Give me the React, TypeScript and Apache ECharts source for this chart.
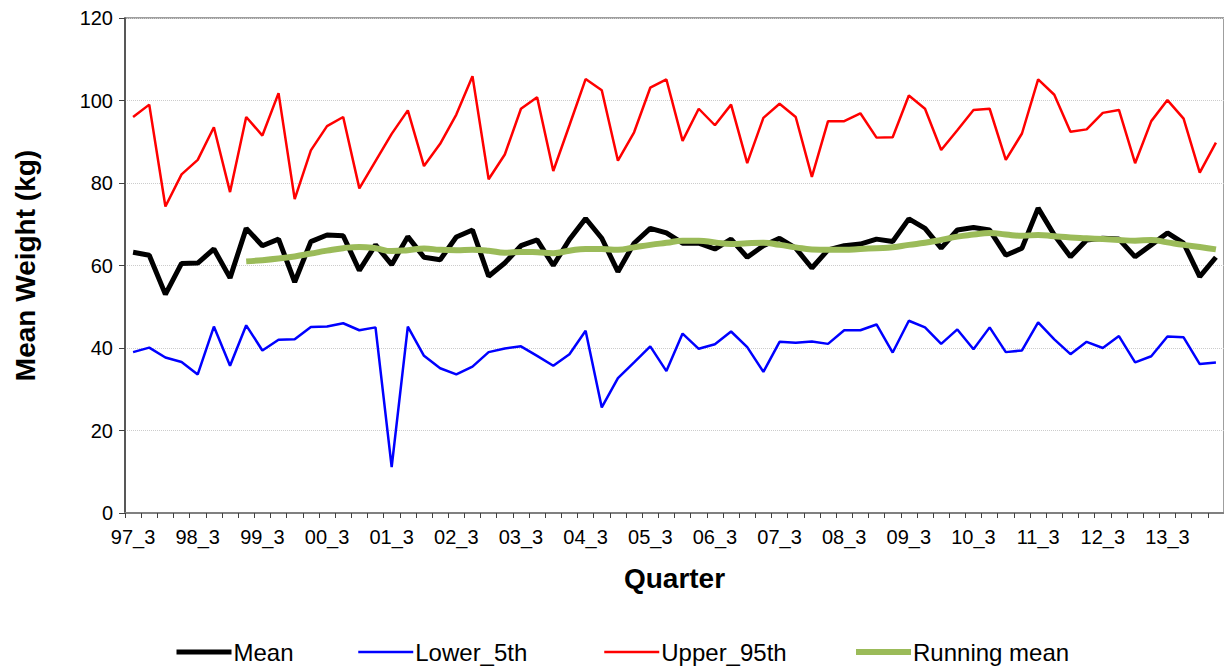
import React, { useEffect, useRef } from "react";
import * as echarts from "echarts";

const years = ["97", "98", "99", "00", "01", "02", "03", "04", "05", "06", "07", "08", "09", "10", "11", "12", "13", "14"];

// quarters 97_3 .. 14_2
const quarters: string[] = [];
for (let y = 0; y < years.length; y++) {
  for (let q = 1; q <= 4; q++) {
    if (y === 0 && q < 3) continue;
    if (y === years.length - 1 && q > 2) continue;
    quarters.push(years[y] + "_" + q);
  }
}

const meanValues = [
  63.2, 62.5, 53.0, 60.5, 60.6, 64.0, 57.0, 69.0, 64.8, 66.4,
  56.0, 65.8, 67.4, 67.2, 58.8, 65.0, 60.2, 67.0, 62.0, 61.4,
  66.9, 68.6, 57.4, 60.6, 64.8, 66.2, 60.0, 66.3, 71.4, 66.6,
  58.5, 65.4, 69.0, 67.9, 65.4, 65.4, 64.0, 66.4, 62.0, 64.8,
  66.6, 64.2, 59.4, 63.8, 64.8, 65.2, 66.4, 65.8, 71.3, 69.0,
  64.2, 68.6, 69.2, 68.6, 62.5, 64.2, 73.9, 67.4, 62.1, 66.2,
  66.6, 66.4, 62.1, 65.0, 67.9, 65.4, 57.3, 62.0,
];

const lower5th = [
  39.0, 40.1, 37.7, 36.6, 33.6, 45.2, 35.7, 45.5, 39.4, 42.0,
  42.1, 45.1, 45.2, 46.0, 44.3, 45.0, 11.1, 45.2, 38.1, 35.1,
  33.6, 35.5, 39.0, 39.9, 40.4, 38.1, 35.7, 38.5, 44.2, 25.6,
  32.7, 36.5, 40.4, 34.4, 43.5, 39.8, 40.9, 44.0, 40.2, 34.2,
  41.5, 41.3, 41.6, 41.0, 44.3, 44.3, 45.7, 38.9, 46.6, 45.0,
  41.0, 44.5, 39.7, 45.0, 39.0, 39.4, 46.2, 42.1, 38.5, 41.5,
  40.0, 42.9, 36.5, 38.0, 42.8, 42.6, 36.1, 36.5,
];

const upper95th = [
  96.0, 99.0, 74.3, 82.1, 85.6, 93.5, 77.8, 96.0, 91.5, 101.8,
  76.1, 87.9, 93.8, 96.0, 78.7, 85.3, 91.9, 97.6, 84.1, 89.5,
  96.6, 105.9, 80.9, 86.9, 98.0, 100.8, 82.9, 94.0, 105.2, 102.5,
  85.4, 92.3, 103.1, 105.1, 90.2, 98.0, 94.0, 99.0, 84.8, 95.8,
  99.2, 96.0, 81.5, 95.0, 95.0, 96.9, 91.0, 91.1, 101.2, 98.0,
  88.0, 92.8, 97.7, 98.0, 85.6, 92.0, 105.1, 101.4, 92.4, 93.0,
  97.0, 97.7, 84.8, 95.0, 100.1, 95.6, 82.5, 89.8,
];

const runningMean: (number | null)[] = [
  null, null, null, null, null, null, null, 61.0, 61.3, 61.7,
  62.2, 62.9, 63.6, 64.2, 64.5, 64.2, 63.5, 63.7, 64.1, 63.8,
  63.7, 63.8, 63.6, 63.1, 63.3, 63.2, 63.0, 63.6, 64.0, 64.0,
  63.8, 64.4, 65.0, 65.5, 66.0, 66.0, 65.6, 65.2, 65.4, 65.5,
  65.0, 64.4, 63.9, 63.8, 63.8, 64.0, 64.2, 64.4, 65.0, 65.5,
  66.2, 67.0, 67.5, 67.9, 67.5, 67.2, 67.4, 67.1, 66.8, 66.6,
  66.4, 66.2, 66.0, 66.2, 65.6, 65.0, 64.5, 63.9,
];

const seriesNames = ["Mean", "Lower_5th", "Upper_95th", "Running mean"];
const seriesColors = ["#000000", "#0000ff", "#ff0000", "#9bbb59"];
const seriesWidths = [5, 2.5, 2.5, 6];
const legendLefts = [169, 352, 598, 848];

export default function App() {
  const ref = useRef<HTMLDivElement>(null);
  useEffect(() => {
    if (!ref.current) return;
    const chart = echarts.init(ref.current, undefined, { renderer: "svg" });
    const font = "'Liberation Sans', Arial, sans-serif";
    const seriesData = [meanValues, lower5th, upper95th, runningMean];
    chart.setOption({
      animation: false,
      textStyle: { fontFamily: font },
      grid: {
        left: 125,
        top: 18,
        bottom: 155,
        right: -3,
        show: true,
        borderColor: "#808080",
        borderWidth: 1.5,
        backgroundColor: "transparent",
      },
      legend: seriesNames.map((name, i) => ({
        left: legendLefts[i],
        top: 635,
        itemWidth: 55,
        itemHeight: 14,
        itemGap: 0,
        itemStyle: { opacity: 0 },
        lineStyle: { width: seriesWidths[i], color: seriesColors[i] },
        textStyle: { fontSize: 24, color: "#000", fontFamily: font, padding: [0, 0, 0, -3] },
        data: [name],
      })),
      xAxis: {
        type: "category",
        data: quarters,
        boundaryGap: true,
        name: "Quarter",
        nameLocation: "middle",
        nameGap: 51,
        nameTextStyle: { fontSize: 28, fontWeight: "bold", color: "#000", fontFamily: font },
        axisLine: { lineStyle: { color: "#808080", width: 2 } },
        axisTick: { show: true, interval: 0, length: 5, lineStyle: { color: "#404040" } },
        axisLabel: { interval: 3, fontSize: 20, color: "#000", margin: 14, fontFamily: font },
        splitLine: { show: false },
      },
      yAxis: {
        type: "value",
        min: 0,
        max: 120,
        interval: 20,
        name: "Mean Weight (kg)",
        nameLocation: "middle",
        nameGap: 86,
        nameRotate: 90,
        nameTextStyle: { fontSize: 28, fontWeight: "bold", color: "#000", fontFamily: font },
        axisLine: { show: true, lineStyle: { color: "#404040", width: 1.5 } },
        axisTick: { show: true, length: 6, lineStyle: { color: "#404040" } },
        axisLabel: { fontSize: 20, color: "#000", margin: 12, fontFamily: font },
        splitLine: { show: true, lineStyle: { color: "#cccccc", type: "dotted", width: 1 } },
      },
      series: seriesNames.map((name, i) => ({
        name,
        type: "line",
        data: seriesData[i],
        symbol: "none",
        smooth: i === 3,
        connectNulls: false,
        lineStyle: { color: seriesColors[i], width: seriesWidths[i] },
        itemStyle: { color: seriesColors[i] },
      })),
    });
    return () => chart.dispose();
  }, []);
  return (
    <div
      ref={ref}
      style={{ position: "fixed", left: 0, top: 0, width: 1224, height: 668, background: "#fff" }}
    />
  );
}
